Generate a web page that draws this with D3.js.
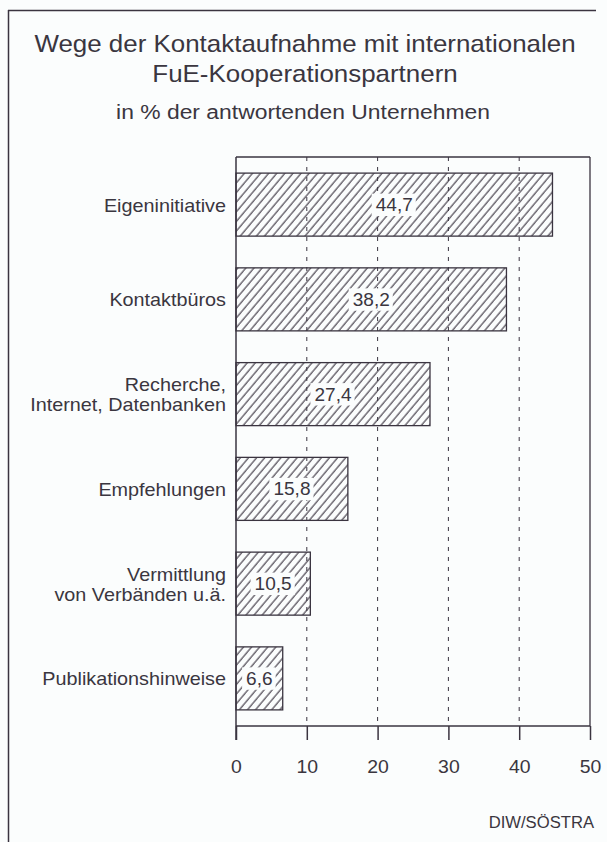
<!DOCTYPE html>
<html>
<head>
<meta charset="utf-8">
<script src="https://cdn.jsdelivr.net/npm/d3@7"></script>
<style>
  body { margin: 0; background: #fbfdfd; }
  svg { display: block; font-family: "Liberation Sans", Arial, Helvetica, sans-serif; }
  text { fill: #3a3640; }
</style>
</head>
<body>
<div class="container"></div>
<script>
const WIDTH = 607;
const HEIGHT = 842;

// data
const categories = [
  "Eigeninitiative",
  "Kontaktbüros",
  "Recherche,\nInternet, Datenbanken",
  "Empfehlungen",
  "Vermittlung\nvon Verbänden u.ä.",
  "Publikationshinweise"
];
const values = [44.7, 38.2, 27.4, 15.8, 10.5, 6.6];
const xTicks = [0, 10, 20, 30, 40, 50];
const titleLines = ["Wege der Kontaktaufnahme mit internationalen", "FuE-Kooperationspartnern"];
const subtitle = "in % der antwortenden Unternehmen";
const source = "DIW/SÖSTRA";

const PLOT_LEFT = 236, PLOT_RIGHT = 590, PLOT_TOP = 157, PLOT_BOTTOM = 726;
const INK = "#3a3440";
const BG = "#fbfdfd";

var xScale = d3.scaleLinear().domain([0, 50]).range([PLOT_LEFT, PLOT_RIGHT]);
var yScale = d3.scaleBand().domain(categories)
    .range([PLOT_TOP, PLOT_BOTTOM])
    .paddingInner(0.335).paddingOuter(0.17);

var fmt = function(v){ return d3.format(".1f")(v).replace(".", ","); };

// text widened a little, like the scanned original
var place = function(x, y, sx){
    return "translate(" + x + "," + y + ") scale(" + sx + ",1)";
};

var svg = d3.select('.container').append('svg')
    .attr('width', WIDTH).attr('height', HEIGHT);

var defs = svg.append('defs');
defs.append('pattern')
    .attr('id', 'hatch')
    .attr('patternUnits', 'userSpaceOnUse')
    .attr('width', 6.2).attr('height', 8)
    .attr('patternTransform', 'rotate(40)')
    .append('line')
    .attr('x1', 1).attr('y1', 0).attr('x2', 1).attr('y2', 8)
    .attr('stroke', INK).attr('stroke-width', 1.1);

// outer frame (left and top only)
svg.append('line').attr('x1', 8.5).attr('x2', 8.5).attr('y1', 10).attr('y2', HEIGHT)
    .attr('stroke', INK).attr('stroke-width', 1.5);
svg.append('line').attr('x1', 8).attr('x2', 596).attr('y1', 10.5).attr('y2', 10.5)
    .attr('stroke', INK).attr('stroke-width', 1.5);

// titles
svg.selectAll('.title').data(titleLines).enter().append('text')
    .attr('class', 'title')
    .attr('transform', function(d, i){ return place(305, 52 + i * 30, 1.08); })
    .attr('text-anchor', 'middle')
    .style('font-size', '24px')
    .text(function(d){ return d; });

svg.append('text')
    .attr('transform', place(303, 119, 1.09))
    .attr('text-anchor', 'middle')
    .style('font-size', '21px')
    .text(subtitle);

// gridlines
svg.append('g').selectAll('line')
    .data(xTicks.filter(function(t){ return t > 0 && t < 50; }))
    .enter().append('line')
    .attr('x1', function(d){ return xScale(d); })
    .attr('x2', function(d){ return xScale(d); })
    .attr('y1', PLOT_TOP).attr('y2', PLOT_BOTTOM)
    .attr('stroke', INK).attr('stroke-width', 1)
    .attr('stroke-dasharray', '4,6');

// plot frame: top and right
svg.append('line').attr('x1', PLOT_LEFT).attr('x2', PLOT_RIGHT)
    .attr('y1', PLOT_TOP).attr('y2', PLOT_TOP)
    .attr('stroke', INK).attr('stroke-width', 1.3);
svg.append('line').attr('x1', PLOT_RIGHT).attr('x2', PLOT_RIGHT)
    .attr('y1', PLOT_TOP).attr('y2', PLOT_BOTTOM)
    .attr('stroke', INK).attr('stroke-width', 1.3);

// bars
var bars = svg.append('g').selectAll('g')
    .data(categories).enter().append('g');

bars.append('rect')
    .attr('x', xScale(0))
    .attr('y', function(d){ return yScale(d); })
    .attr('width', function(d, i){ return xScale(values[i]) - xScale(0); })
    .attr('height', yScale.bandwidth())
    .attr('fill', 'url(#hatch)')
    .attr('stroke', INK).attr('stroke-width', 1.3);

bars.each(function(d, i){
    var g = d3.select(this);
    var cx = (xScale(0) + xScale(values[i])) / 2;
    var cy = yScale(d) + yScale.bandwidth() / 2;
    var label = g.append('text')
        .attr('transform', place(cx, cy + 6.5, 1.06))
        .attr('text-anchor', 'middle')
        .style('font-size', '18px')
        .text(fmt(values[i]));
    var bb = label.node().getBBox();
    var w = bb.width * 1.06;
    var x0 = Math.max(cx - w / 2 - 4, xScale(0) + 1);
    var x1 = Math.min(cx + w / 2 + 3, xScale(values[i]) - 1);
    g.insert('rect', 'text')
        .attr('x', x0).attr('y', cy + 6.5 + bb.y - 1)
        .attr('width', x1 - x0).attr('height', bb.height + 2)
        .attr('fill', BG);
});

// category labels
svg.append('g').selectAll('text')
    .data(categories).enter().append('text')
    .attr('text-anchor', 'end')
    .attr('transform', function(d){
        return place(226, yScale(d) + yScale.bandwidth() / 2 + 7, 1.1);
    })
    .style('font-size', '18px')
    .each(function(d){
        var lines = d.split('\n');
        var t = d3.select(this);
        lines.forEach(function(line, k){
            t.append('tspan')
                .attr('x', 0)
                .attr('y', (k - (lines.length - 1) / 2) * 20)
                .text(line);
        });
    });

// x axis
var xAxis = d3.axisBottom(xScale).tickValues(xTicks).tickSize(14).tickPadding(0)
    .tickFormat(d3.format('d'));
var axisG = svg.append('g')
    .attr('transform', 'translate(0,' + PLOT_BOTTOM + ')')
    .call(xAxis);
axisG.select('.domain').remove();
axisG.selectAll('line').attr('stroke', INK).attr('stroke-width', 1.5);
axisG.selectAll('text')
    .attr('y', null).attr('dy', null)
    .attr('transform', 'translate(0,47) scale(1.08,1)')
    .attr('fill', '#3a3640')
    .style('font-size', '18px')
    .style('font-family', '"Liberation Sans", Arial, sans-serif');
svg.append('line').attr('x1', PLOT_LEFT).attr('x2', PLOT_RIGHT)
    .attr('y1', PLOT_BOTTOM).attr('y2', PLOT_BOTTOM)
    .attr('stroke', INK).attr('stroke-width', 1.5);

// y axis line
svg.append('line').attr('x1', PLOT_LEFT).attr('x2', PLOT_LEFT)
    .attr('y1', PLOT_TOP).attr('y2', PLOT_BOTTOM + 14)
    .attr('stroke', INK).attr('stroke-width', 1.5);

// source
svg.append('text')
    .attr('transform', place(594, 828, 1.04))
    .attr('text-anchor', 'end')
    .style('font-size', '16px')
    .text(source);
</script>
</body>
</html>
